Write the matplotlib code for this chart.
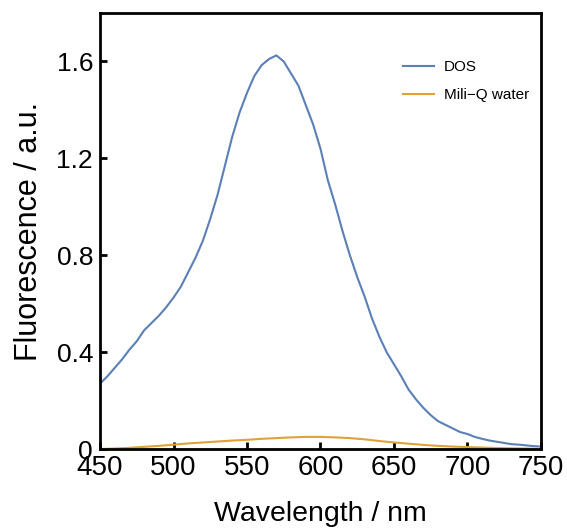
import numpy as np
import matplotlib
matplotlib.use('Agg')
import matplotlib.pyplot as plt

plt.rcParams['font.family'] = ['Liberation Sans', 'DejaVu Sans']

# DOS emission spectrum (5 nm steps)
dos_wl = np.arange(450, 751, 5)
dos_fl = [0.27, 0.30, 0.335, 0.37, 0.41, 0.445, 0.49, 0.52, 0.55, 0.585,
          0.625, 0.67, 0.73, 0.79, 0.86, 0.95, 1.05, 1.17, 1.29, 1.39,
          1.47, 1.54, 1.585, 1.61, 1.625, 1.60, 1.55, 1.50, 1.42, 1.34,
          1.24, 1.11, 1.01, 0.90, 0.80, 0.71, 0.63, 0.54, 0.465, 0.40,
          0.35, 0.30, 0.245, 0.205, 0.17, 0.14, 0.115, 0.10, 0.085, 0.07,
          0.062, 0.05, 0.042, 0.035, 0.03, 0.025, 0.02, 0.018, 0.015, 0.012,
          0.01]

# Mili-Q water background (10 nm steps)
water_wl = np.arange(450, 751, 10)
water_fl = [0.0, 0.002, 0.005, 0.009, 0.013, 0.018, 0.023, 0.027, 0.031, 0.035,
            0.038, 0.042, 0.045, 0.048, 0.05, 0.05, 0.048, 0.045, 0.04, 0.033,
            0.027, 0.022, 0.017, 0.013, 0.01, 0.008, 0.006, 0.004, 0.003, 0.002,
            0.001]

fig = plt.figure(figsize=(5.67, 5.31), dpi=100)
ax = fig.add_axes([0.1764, 0.1544, 0.7776, 0.8211])

ax.plot(dos_wl, dos_fl, color='#5b7fb7', lw=1.5, label='DOS')
ax.plot(water_wl, water_fl, color='#e0a235', lw=1.5, label='Mili\u2212Q water')

ax.set_xlim(450, 750)
ax.set_ylim(0, 1.8)
ax.set_xticks([450, 500, 550, 600, 650, 700, 750])
ax.set_yticks([0, 0.4, 0.8, 1.2, 1.6])
ax.set_yticklabels(['0', '0.4', '0.8', '1.2', '1.6'])

for s in ax.spines.values():
    s.set_linewidth(2)
ax.tick_params(direction='in', length=5, width=2, labelsize=19, pad=5)
ax.tick_params(axis='x', labelsize=20, pad=4)

ax.set_xlabel('Wavelength / nm', fontsize=20.5, labelpad=15)
ax.set_ylabel('Fluorescence / a.u.', fontsize=22, labelpad=9)

ax.legend(loc='upper left', frameon=False, fontsize=11,
          bbox_to_anchor=(0.7108, 0.8867), bbox_transform=fig.transFigure,
          borderaxespad=0, borderpad=0, handlelength=2.0,
          handletextpad=0.65, labelspacing=0.9)

fig.savefig('out.png', dpi=100)
